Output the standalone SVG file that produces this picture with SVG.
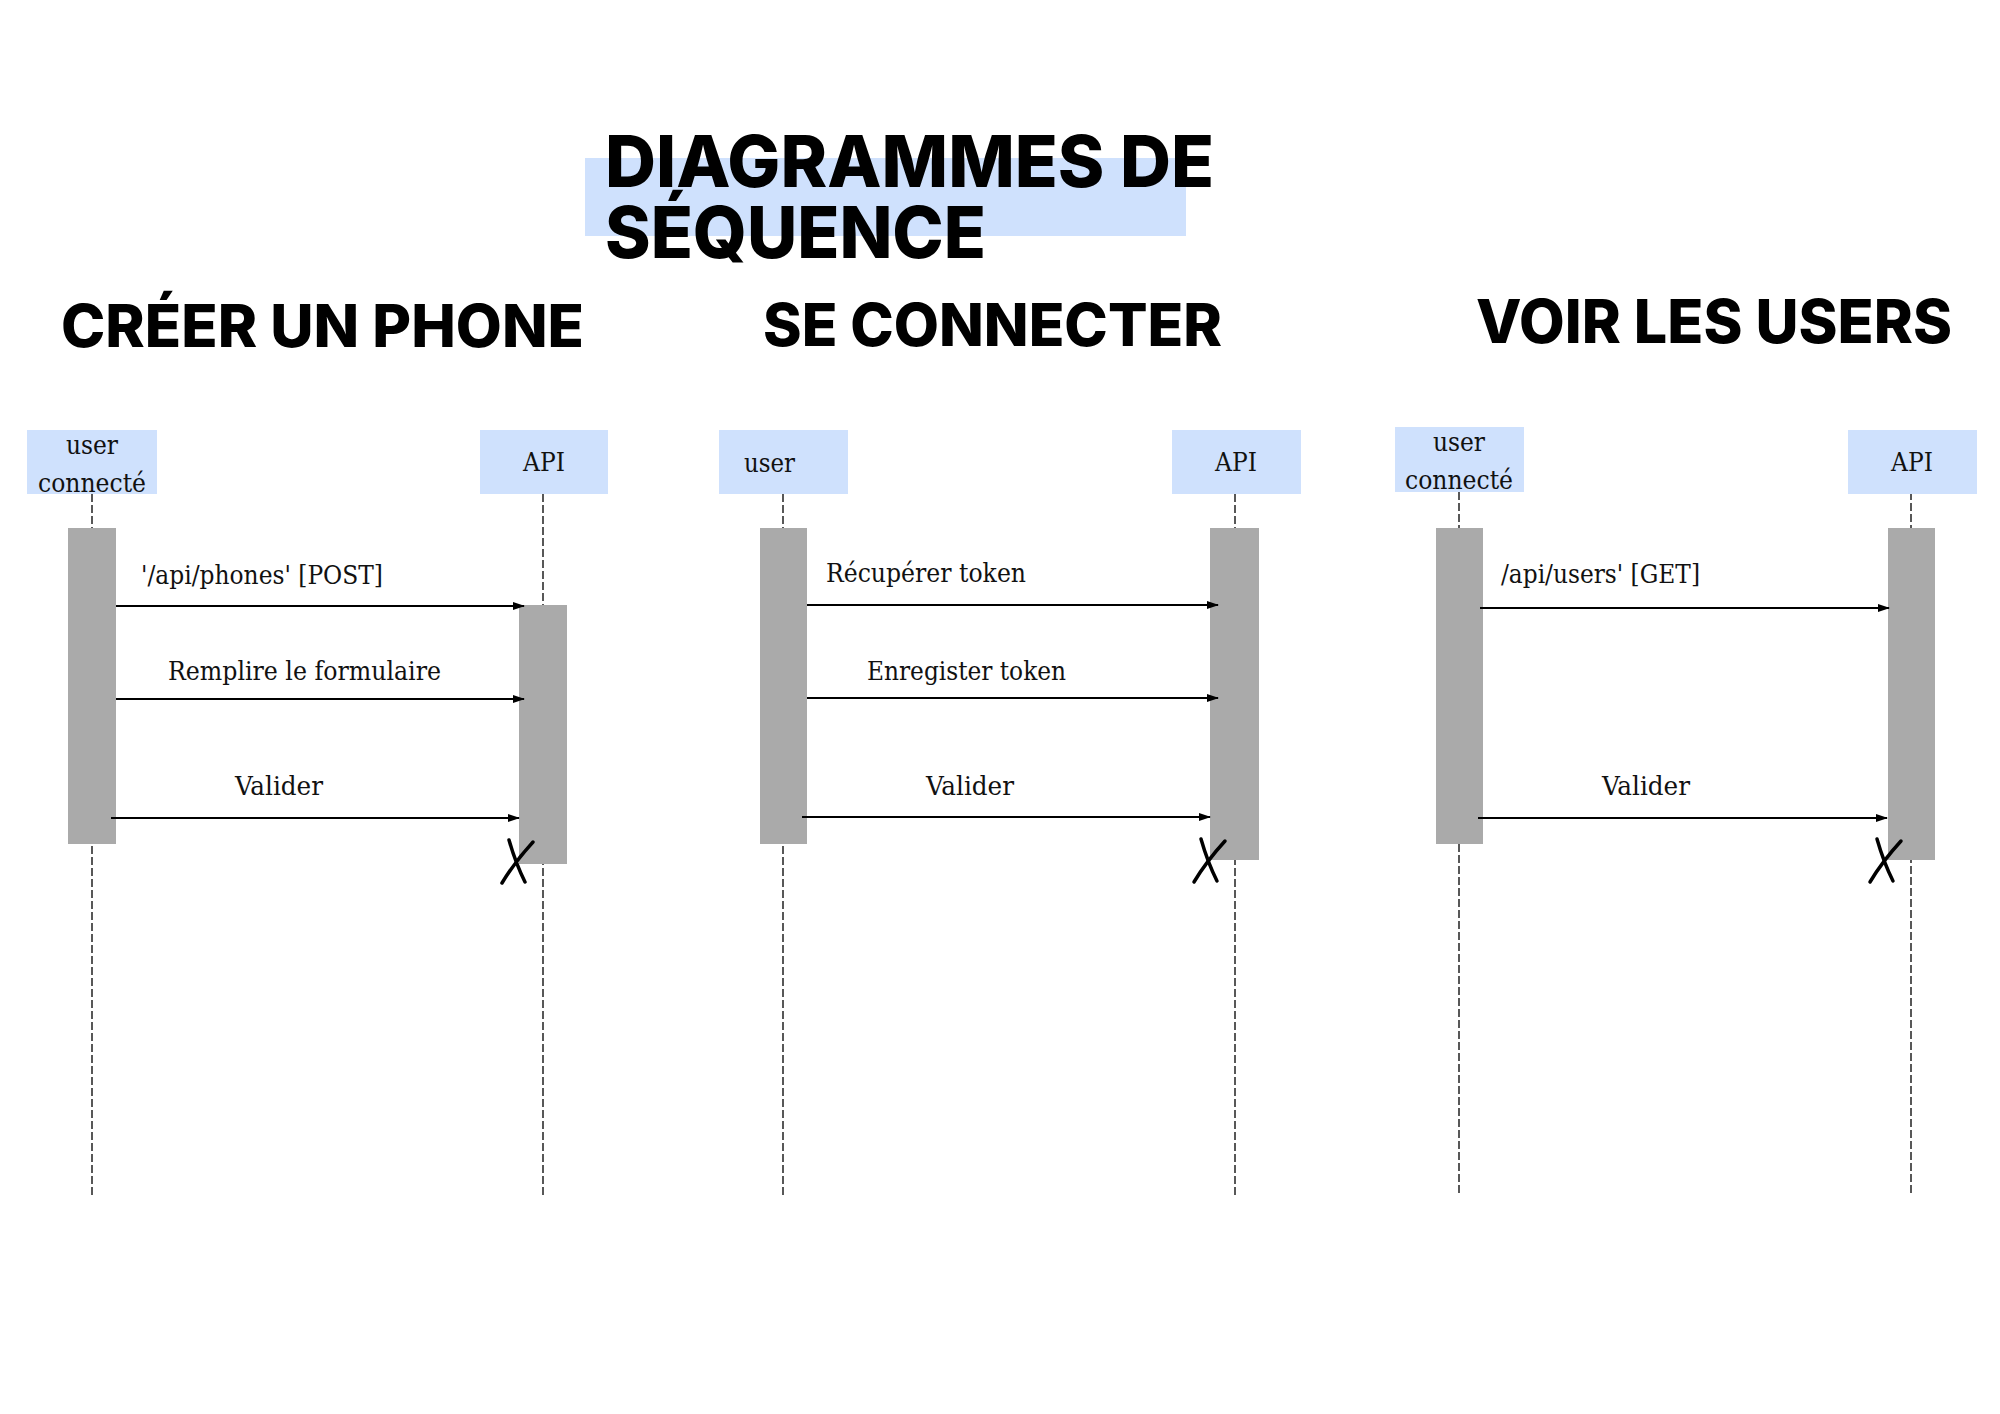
<svg xmlns="http://www.w3.org/2000/svg" width="2000" height="1414" viewBox="0 0 2000 1414">
  <defs>
    <style>
      .heading { font-family: Inter, "Open Sans", "DejaVu Sans", sans-serif; font-weight: 800; fill: #000; }
      .actor { fill: #cfe1fd; }
      .actor-label, .msg { font-family: "DejaVu Serif", "Liberation Serif", serif; font-stretch: condensed; font-size: 26px; fill: #111; }
      .lifeline { stroke: #222; stroke-width: 1.5; stroke-dasharray: 8 3; fill: none; }
      .activation { fill: #aaaaaa; }
      .message { stroke: #000; stroke-width: 2; fill: none; marker-end: url(#arrow); }
      .destroy { stroke: #000; stroke-width: 3.5; fill: none; stroke-linecap: round; }
    </style>
    <marker id="arrow" viewBox="0 0 12 8" refX="11" refY="4" markerWidth="12" markerHeight="8" markerUnits="userSpaceOnUse" orient="auto">
      <path d="M0,0 L12,4 L0,8 Z" fill="#000"/>
    </marker>
    <!-- hand-drawn destruction cross -->
    <g id="cross">
      <path class="destroy" d="M9 2 C13 16 18 30 25 44"/>
      <path class="destroy" d="M33 4 C22 16 11 30 2 45"/>
    </g>
  </defs>

  <rect width="2000" height="1414" fill="#ffffff"/>

  <!-- Page title -->
  <g id="title">
    <rect x="585" y="158" width="601" height="78" fill="#cfe1fd"/>
    <text class="heading" x="605" y="187" font-size="72" textLength="609" lengthAdjust="spacingAndGlyphs">DIAGRAMMES DE</text>
    <text class="heading" x="605" y="258" font-size="72" textLength="381" lengthAdjust="spacingAndGlyphs">SÉQUENCE</text>
  </g>

  <!-- Section headings -->
  <g id="heading-creer">
    <text class="heading" x="61" y="347" font-size="59" textLength="523" lengthAdjust="spacingAndGlyphs">CRÉER UN PHONE</text>
  </g>
  <g id="heading-connecter">
    <text class="heading" x="763" y="346" font-size="59" textLength="459" lengthAdjust="spacingAndGlyphs">SE CONNECTER</text>
  </g>
  <g id="heading-users">
    <text class="heading" x="1476" y="343" font-size="60" textLength="476" lengthAdjust="spacingAndGlyphs">VOIR LES USERS</text>
  </g>

  <!-- Lifelines and messages -->
  <g id="connectors">
    <!-- Créer un phone -->
    <line class="lifeline" x1="92" y1="494" x2="92" y2="1195"/>
    <line class="lifeline" x1="543" y1="494" x2="543" y2="1195"/>
    <!-- Se connecter -->
    <line class="lifeline" x1="783" y1="494" x2="783" y2="1195"/>
    <line class="lifeline" x1="1235" y1="494" x2="1235" y2="1195"/>
    <!-- Voir les users -->
    <line class="lifeline" x1="1459" y1="492" x2="1459" y2="1195"/>
    <line class="lifeline" x1="1911" y1="492" x2="1911" y2="1195"/>
  </g>

  <!-- Créer un phone -->
  <g id="creer-user">
    <rect class="actor" x="27" y="430" width="130" height="64"/>
    <text class="actor-label" x="92" y="454" text-anchor="middle">user</text>
    <text class="actor-label" x="92" y="492" text-anchor="middle" textLength="108" lengthAdjust="spacingAndGlyphs">connecté</text>
    <rect class="activation" x="68" y="528" width="48" height="316"/>
  </g>
  <g id="creer-api">
    <rect class="actor" x="480" y="430" width="128" height="64"/>
    <text class="actor-label" x="544" y="471" text-anchor="middle">API</text>
    <rect class="activation" x="519" y="605" width="48" height="259"/>
    <use href="#cross" x="500" y="838"/>
  </g>
  <g id="creer-messages">
    <line class="message" x1="116" y1="606" x2="524" y2="606"/>
    <text class="msg" x="141" y="584" textLength="242" lengthAdjust="spacingAndGlyphs">'/api/phones' [POST]</text>
    <line class="message" x1="116" y1="699" x2="524" y2="699"/>
    <text class="msg" x="168" y="680" textLength="273" lengthAdjust="spacingAndGlyphs">Remplire le formulaire</text>
    <line class="message" x1="111" y1="818" x2="519" y2="818"/>
    <text class="msg" x="235" y="795" textLength="88" lengthAdjust="spacingAndGlyphs">Valider</text>
  </g>

  <!-- Se connecter -->
  <g id="connecter-user">
    <rect class="actor" x="719" y="430" width="129" height="64"/>
    <text class="actor-label" x="744" y="472" textLength="51" lengthAdjust="spacingAndGlyphs">user</text>
    <rect class="activation" x="760" y="528" width="47" height="316"/>
  </g>
  <g id="connecter-api">
    <rect class="actor" x="1172" y="430" width="129" height="64"/>
    <text class="actor-label" x="1236" y="471" text-anchor="middle">API</text>
    <rect class="activation" x="1210" y="528" width="49" height="332"/>
    <use href="#cross" x="1192" y="837"/>
  </g>
  <g id="connecter-messages">
    <line class="message" x1="807" y1="605" x2="1218" y2="605"/>
    <text class="msg" x="826" y="582" textLength="200" lengthAdjust="spacingAndGlyphs">Récupérer token</text>
    <line class="message" x1="807" y1="698" x2="1218" y2="698"/>
    <text class="msg" x="867" y="680" textLength="199" lengthAdjust="spacingAndGlyphs">Enregister token</text>
    <line class="message" x1="802" y1="817" x2="1210" y2="817"/>
    <text class="msg" x="926" y="795" textLength="88" lengthAdjust="spacingAndGlyphs">Valider</text>
  </g>

  <!-- Voir les users -->
  <g id="users-user">
    <rect class="actor" x="1395" y="427" width="129" height="65"/>
    <text class="actor-label" x="1459" y="451" text-anchor="middle">user</text>
    <text class="actor-label" x="1459" y="489" text-anchor="middle" textLength="108" lengthAdjust="spacingAndGlyphs">connecté</text>
    <rect class="activation" x="1436" y="528" width="47" height="316"/>
  </g>
  <g id="users-api">
    <rect class="actor" x="1848" y="430" width="129" height="64"/>
    <text class="actor-label" x="1912" y="471" text-anchor="middle">API</text>
    <rect class="activation" x="1888" y="528" width="47" height="332"/>
    <use href="#cross" x="1868" y="837"/>
  </g>
  <g id="users-messages">
    <line class="message" x1="1480" y1="608" x2="1889" y2="608"/>
    <text class="msg" x="1501" y="583" textLength="199" lengthAdjust="spacingAndGlyphs">/api/users' [GET]</text>
    <line class="message" x1="1478" y1="818" x2="1887" y2="818"/>
    <text class="msg" x="1602" y="795" textLength="88" lengthAdjust="spacingAndGlyphs">Valider</text>
  </g>
</svg>
